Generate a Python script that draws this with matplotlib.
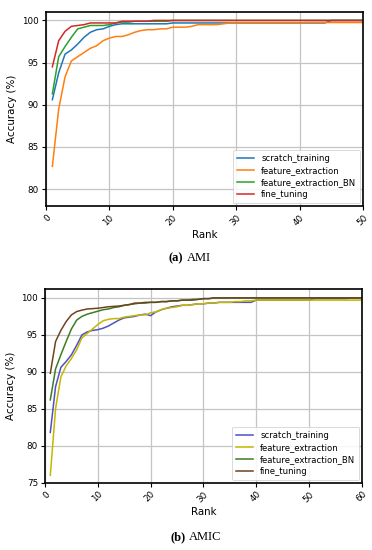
import matplotlib
matplotlib.use("Agg")
import matplotlib.pyplot as plt
import numpy as np

# ---------------- data: AMI (ranks 1..50) ----------------
ami_rank = list(range(1, 51))
ami_scratch = [90.6, 93.8, 96.0, 96.5, 97.2, 98.0, 98.6, 98.9, 99.0, 99.3,
               99.5, 99.6, 99.6, 99.6, 99.6, 99.6, 99.6, 99.6, 99.6, 99.7,
               99.7, 99.7, 99.7, 99.7, 99.7, 99.7, 99.7, 99.7, 99.7, 99.7,
               99.7, 99.7, 99.7, 99.7, 99.7, 99.7, 99.7, 99.7, 99.7, 99.7,
               99.7, 99.7, 99.7, 99.7, 100.0, 100.0, 100.0, 100.0, 100.0, 100.0]
ami_feat = [82.7, 89.5, 93.3, 95.2, 95.7, 96.2, 96.7, 97.0, 97.6, 97.9,
            98.1, 98.1, 98.3, 98.6, 98.8, 98.9, 98.9, 99.0, 99.0, 99.2,
            99.2, 99.2, 99.3, 99.5, 99.5, 99.5, 99.5, 99.6, 99.7, 99.7,
            99.7, 99.7, 99.7, 99.7, 99.7, 99.7, 99.7, 99.7, 99.7, 99.7,
            99.75, 99.75, 99.75, 99.75, 99.75, 99.75, 99.75, 99.75, 99.75, 99.75]
ami_featbn = [91.3, 95.7, 96.9, 98.0, 99.0, 99.2, 99.4, 99.4, 99.4, 99.5,
              99.7, 99.8, 99.8, 99.9, 99.9, 99.9, 99.9, 99.9, 99.9, 100.0,
              100.0, 100.0, 100.0, 100.0, 100.0, 100.0, 100.0, 100.0, 100.0, 100.0,
              100.0, 100.0, 100.0, 100.0, 100.0, 100.0, 100.0, 100.0, 100.0, 100.0,
              100.0, 100.0, 100.0, 100.0, 100.0, 100.0, 100.0, 100.0, 100.0, 100.0]
ami_fine = [94.5, 97.6, 98.7, 99.3, 99.4, 99.5, 99.7, 99.7, 99.7, 99.7,
            99.7, 99.9, 99.9, 99.9, 99.9, 99.9, 100.0, 100.0, 100.0, 100.0,
            100.0, 100.0, 100.0, 100.0, 100.0, 100.0, 100.0, 100.0, 100.0, 100.0,
            100.0, 100.0, 100.0, 100.0, 100.0, 100.0, 100.0, 100.0, 100.0, 100.0,
            100.0, 100.0, 100.0, 100.0, 100.0, 100.0, 100.0, 100.0, 100.0, 100.0]

# ---------------- data: AMIC (ranks 1..60) ----------------
amic_rank = list(range(1, 61))
amic_scratch = [81.8, 88.0, 90.6, 91.4, 92.3, 93.6, 95.0, 95.4, 95.6, 95.7,
                95.9, 96.2, 96.6, 97.0, 97.3, 97.4, 97.5, 97.7, 97.8, 97.6,
                98.1, 98.4, 98.6, 98.8, 98.9, 99.0, 99.0, 99.1, 99.2, 99.2,
                99.3, 99.3, 99.4, 99.4, 99.4, 99.4, 99.4, 99.4, 99.4, 99.7,
                99.7, 99.7, 99.7, 99.7, 99.7, 99.7, 99.7, 99.7, 99.7, 99.7,
                99.9, 99.9, 99.9, 99.9, 99.9, 99.9, 99.9, 100.0, 100.0, 100.0]
amic_feat = [76.0, 85.0, 89.3, 90.8, 91.8, 93.0, 94.6, 95.2, 95.8, 96.4,
             96.9, 97.1, 97.2, 97.2, 97.4, 97.5, 97.6, 97.7, 97.7, 98.0,
             98.1, 98.4, 98.6, 98.7, 98.8, 99.0, 99.0, 99.1, 99.2, 99.2,
             99.3, 99.3, 99.4, 99.4, 99.4, 99.5, 99.5, 99.6, 99.6, 99.7,
             99.7, 99.7, 99.7, 99.7, 99.7, 99.7, 99.7, 99.7, 99.7, 99.7,
             99.7, 99.7, 99.7, 99.7, 99.7, 99.7, 99.7, 99.7, 99.7, 99.7]
amic_featbn = [86.2, 90.4, 92.3, 94.1, 95.8, 97.0, 97.5, 97.8, 98.0, 98.2,
               98.4, 98.5, 98.7, 98.8, 99.0, 99.1, 99.2, 99.3, 99.3, 99.4,
               99.4, 99.5, 99.5, 99.6, 99.6, 99.7, 99.7, 99.8, 99.8, 99.9,
               99.9, 100.0, 100.0, 100.0, 100.0, 100.0, 100.0, 100.0, 100.0, 100.0,
               100.0, 100.0, 100.0, 100.0, 100.0, 100.0, 100.0, 100.0, 100.0, 100.0,
               100.0, 100.0, 100.0, 100.0, 100.0, 100.0, 100.0, 100.0, 100.0, 100.0]
amic_fine = [89.8, 94.1, 95.6, 96.8, 97.7, 98.15, 98.35, 98.5, 98.55, 98.6,
             98.7, 98.8, 98.85, 98.9, 99.0, 99.1, 99.3, 99.3, 99.4, 99.4,
             99.4, 99.5, 99.5, 99.6, 99.6, 99.7, 99.7, 99.7, 99.8, 99.9,
             99.9, 100.0, 100.0, 100.0, 100.0, 100.0, 100.0, 100.0, 100.0, 100.0,
             100.0, 100.0, 100.0, 100.0, 100.0, 100.0, 100.0, 100.0, 100.0, 100.0,
             100.0, 100.0, 100.0, 100.0, 100.0, 100.0, 100.0, 100.0, 100.0, 100.0]

series_names = ["scratch_training", "feature_extraction",
                "feature_extraction_BN", "fine_tuning"]
ami_yticks = [80, 85, 90, 95, 100]
ami_xticks = [0, 10, 20, 30, 40, 50]
amic_yticks = [75, 80, 85, 90, 95, 100]
amic_xticks = [0, 10, 20, 30, 40, 50, 60]

colors_a = ["#1f77b4", "#ff7f0e", "#2ca02c", "#d62728"]
colors_b = ["#5050c8", "#c2b800", "#3a7d22", "#6e4420"]

fig = plt.figure(figsize=(3.72, 5.5), dpi=100)
ax1 = fig.add_axes([0.1237, 0.6255, 0.852, 0.3527])
ax2 = fig.add_axes([0.121, 0.1224, 0.852, 0.3521])


def style(ax, rank, ys, colors, xt, yt, xlim, ylim):
    for y, c, n in zip(ys, colors, series_names):
        ax.plot(rank, y, color=c, lw=1.1, label=n)
    ax.set_xlim(*xlim)
    ax.set_ylim(*ylim)
    ax.set_xticks(xt)
    ax.set_yticks(yt)
    ax.grid(True, color="#c4c4c4", lw=0.9)
    ax.set_axisbelow(True)
    ax.tick_params(labelsize=6.3, length=3, width=0.8, pad=2)
    for lab in ax.get_xticklabels():
        lab.set_rotation(45)
        lab.set_ha("right")
        lab.set_rotation_mode("anchor")
    for s in ax.spines.values():
        s.set_linewidth(1.2)
    ax.set_xlabel("Rank", fontsize=7.4, labelpad=2)
    ax.set_ylabel("Accuracy (%)", fontsize=7.4, labelpad=4)
    leg = ax.legend(loc="lower right", fontsize=6.1, framealpha=0.85,
                    handlelength=2.0, borderpad=0.5, labelspacing=0.35,
                    fancybox=True, borderaxespad=0.3)
    leg.get_frame().set_linewidth(0.6)


style(ax1, ami_rank, [ami_scratch, ami_feat, ami_featbn, ami_fine],
      colors_a, ami_xticks, ami_yticks, (0, 50), (78, 101))
style(ax2, amic_rank, [amic_scratch, amic_feat, amic_featbn, amic_fine],
      colors_b, amic_xticks, amic_yticks, (0, 60), (75, 101.2))

serif = ["Liberation Serif", "DejaVu Serif"]
fig.text(0.493, 1 - 258 / 550, "(a)", ha="right", va="center",
         fontsize=9, fontweight="bold", family=serif)
fig.text(0.503, 1 - 258 / 550, "AMI", ha="left", va="center",
         fontsize=9, family=serif)
fig.text(0.499, 1 - 537 / 550, "(b)", ha="right", va="center",
         fontsize=9, fontweight="bold", family=serif)
fig.text(0.509, 1 - 537 / 550, "AMIC", ha="left", va="center",
         fontsize=9, family=serif)

fig.savefig("out.png", dpi=100)
